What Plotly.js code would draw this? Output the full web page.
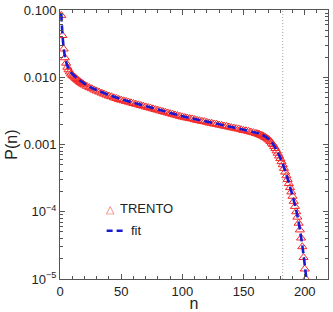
<!DOCTYPE html>
<html>
<head>
<meta charset="utf-8">
<script src="https://cdn.plot.ly/plotly-3.0.1.min.js"></script>
<style>
  html, body { margin: 0; padding: 0; background: #fff; }
  #chart { width: 333px; height: 312px; }
</style>
</head>
<body>
<div id="chart"></div>
<script>
// TRENTO multiplicity distribution P(n)
const trentoN = [1, 2, 3, 4, 5, 6, 7, 8, 9, 10,
  11, 12, 13, 14, 15, 16, 17, 18, 19, 20,
  22, 24, 26, 28, 30,
  32, 34, 36, 38, 40, 42, 44, 46, 48, 50,
  52, 54, 56, 58, 60, 62, 64, 66, 68, 70,
  72, 74, 76, 78, 80, 82, 84, 86, 88, 90,
  92, 94, 96, 98, 100, 102, 104, 106, 108, 110,
  112, 114, 116, 118, 120, 122, 124, 126, 128, 130,
  132, 134, 136, 138, 140, 142, 144, 146, 148, 150,
  152, 154, 156, 158,
  160, 161, 162, 163, 164, 165, 166, 167, 168, 169,
  170, 171, 172, 173, 174, 175, 176, 177, 178, 179,
  180, 181, 182, 183, 184, 185, 186, 187, 188, 189,
  190, 191, 192, 193, 194, 195, 196, 197, 198, 199,
  200, 201];
const trentoP = [0.0832, 0.0417, 0.0263, 0.0195, 0.0162, 0.0141, 0.0129, 0.0120, 0.0112, 0.0107,
  0.01035, 0.0100, 0.00959, 0.00923, 0.00891, 0.00861, 0.00836, 0.00813, 0.00789, 0.00767,
  0.00733, 0.00700, 0.00676, 0.00646, 0.00624,
  0.00603, 0.00582, 0.00562, 0.00543, 0.00525, 0.00513, 0.00495, 0.00484, 0.00468, 0.00457,
  0.00447, 0.00437, 0.00427, 0.00417, 0.00407, 0.00398, 0.00389, 0.00380, 0.00372, 0.00363,
  0.00355, 0.00347, 0.00339, 0.00331, 0.00324, 0.00316, 0.00309, 0.00302, 0.00295, 0.00288,
  0.00282, 0.00275, 0.00269, 0.00263, 0.00257, 0.00251, 0.00248, 0.00243, 0.00240, 0.00234,
  0.00229, 0.00226, 0.00221, 0.00219, 0.00214, 0.00209, 0.00207, 0.00202, 0.00200, 0.00195,
  0.00193, 0.00188, 0.00186, 0.00182, 0.00178, 0.00176, 0.00172, 0.00170, 0.00166, 0.00162,
  0.00160, 0.00157, 0.00153, 0.00150,
  0.00146, 0.00145, 0.00143, 0.00141, 0.00138, 0.00136, 0.00133, 0.00130, 0.00127, 0.00124,
  0.00120, 0.00116, 0.00111, 0.00105, 0.00100, 0.000933, 0.000871, 0.000804, 0.000741, 0.000676,
  0.000617, 0.000556, 0.000501, 0.000442, 0.000389, 0.000343, 0.000302, 0.000263, 0.000229, 0.000197,
  0.000170, 0.000143, 0.000120, 0.000100, 0.0000832, 0.0000676, 0.0000537, 0.0000407, 0.0000302, 0.0000209,
  0.0000141, 0.0000100];

// Fitted curve
const fitN = [1, 2, 3, 4, 5, 6, 8, 10, 13, 16, 20, 25, 30, 40, 50, 60, 70, 80, 90, 100,
  110, 120, 130, 140, 150, 160, 165, 170, 174, 178, 182, 186, 190, 194, 198, 201, 203];
const fitP = [0.0891, 0.0437, 0.0275, 0.0204, 0.0170, 0.0148, 0.0126, 0.0112, 0.0100, 0.00902,
  0.00804, 0.00708, 0.00646, 0.00543, 0.00473, 0.00417, 0.00372, 0.00331, 0.00295, 0.00263,
  0.00240, 0.00219, 0.00200, 0.00182, 0.00166, 0.00150, 0.00140, 0.00123, 0.00102, 0.000759,
  0.000513, 0.000309, 0.000174, 0.0000871, 0.0000316, 0.0000112, 0.00000501];

// Vertical reference line position
const cutN = 182;

// Axis ticks
const xTickVals = [0, 50, 100, 150, 200];
const yTickVals = [0.1, 0.01, 0.001, 0.0001, 0.00001];
const yTickText = ['0.100', '0.010', '0.001', '10<sup>\u22124</sup>', '10<sup>\u22125</sup>'];

const yMinor = [];
for (let e = -5; e <= -2; e++) {
  for (let m = 2; m <= 9; m++) yMinor.push(m * Math.pow(10, e));
}

const axisColor = '#555';
const font = { family: 'Liberation Sans, Arial, sans-serif', size: 13, color: '#222' };

const traces = [
  {
    x: trentoN, y: trentoP, type: 'scatter', mode: 'markers', name: 'TRENTO',
    marker: { symbol: 'triangle-up-open', size: 8, color: 'rgb(245,40,40)', line: { width: 1, color: 'rgb(245,40,40)' } },
    cliponaxis: true, showlegend: false
  },
  {
    x: fitN, y: fitP, type: 'scatter', mode: 'lines', name: 'fit',
    line: { color: 'rgb(25,25,210)', width: 2.6, dash: '8px,4px', shape: 'spline' },
    showlegend: false
  }
];

const layout = {
  width: 333, height: 312,
  margin: { l: 60, r: 5, t: 10, b: 33 },
  paper_bgcolor: '#fff', plot_bgcolor: '#fff',
  font: font,
  showlegend: false,
  xaxis: {
    range: [0, 219], tickmode: 'array', tickvals: xTickVals,
    ticks: 'inside', ticklen: 5, tickwidth: 1, tickcolor: axisColor,
    minor: { ticks: 'inside', ticklen: 3, tickwidth: 1, tickcolor: axisColor, dtick: 10, tick0: 0, showgrid: false },
    showline: true, linecolor: axisColor, linewidth: 1, mirror: 'allticks',
    showgrid: false, zeroline: false,
    tickfont: { size: 13, color: '#222' },
    title: { text: 'n', font: { size: 16, color: '#222' }, standoff: 7 }
  },
  yaxis: {
    type: 'log', range: [-5, -1], tickmode: 'array', tickvals: yTickVals, ticktext: yTickText,
    ticks: 'inside', ticklen: 5, tickwidth: 1, tickcolor: axisColor,
    minor: { ticks: 'inside', ticklen: 3, tickwidth: 1, tickcolor: axisColor, tickmode: 'array', tickvals: yMinor, showgrid: false },
    showline: true, linecolor: axisColor, linewidth: 1, mirror: 'allticks',
    showgrid: false, zeroline: false,
    tickfont: { size: 13, color: '#222' },
    title: { text: 'P(n)', font: { size: 16, color: '#222' }, standoff: 2 }
  },
  shapes: [
    {
      type: 'line', xref: 'x', yref: 'paper', x0: cutN, x1: cutN, y0: 0, y1: 1,
      line: { color: '#aaa', width: 1, dash: '1px,2px' }, layer: 'below'
    },
    // legend sample for the fit line
    {
      type: 'line', xref: 'paper', yref: 'paper', x0: 0.174, x1: 0.2425, y0: 0.1796, y1: 0.1796,
      line: { color: 'rgb(25,25,210)', width: 2.6, dash: '6px,4px' }
    }
  ],
  annotations: [
    { xref: 'paper', yref: 'paper', x: 0.1866, y: 0.262, text: '\u25B3', showarrow: false,
      font: { size: 11, color: 'rgb(235,90,90)' }, xanchor: 'center', yanchor: 'middle' },
    { xref: 'paper', yref: 'paper', x: 0.2164, y: 0.262, text: 'TRENTO', showarrow: false,
      font: { size: 13, color: '#222' }, xanchor: 'left', yanchor: 'middle' },
    { xref: 'paper', yref: 'paper', x: 0.2575, y: 0.1796, text: 'fit', showarrow: false,
      font: { size: 13, color: '#222' }, xanchor: 'left', yanchor: 'middle' }
  ]
};

Plotly.newPlot('chart', traces, layout, { staticPlot: true, displayModeBar: false });
</script>
</body>
</html>
